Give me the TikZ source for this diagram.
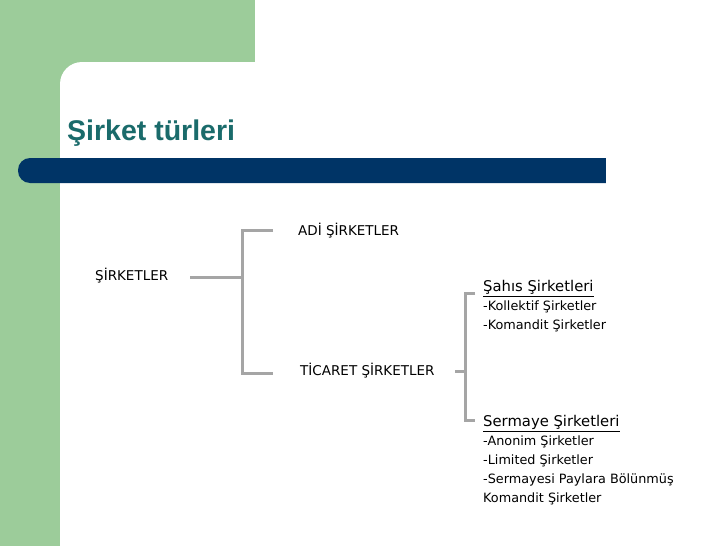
\documentclass[tikz,border=0pt]{standalone}
\usepackage{fontspec}
\setmainfont{DejaVu Sans}
\newfontfamily\titlefont{Liberation Sans}
\definecolor{grn}{HTML}{9CCC9A}
\definecolor{bar}{HTML}{003466}
\definecolor{ttl}{HTML}{1A6B6B}
\definecolor{ln}{HTML}{A5A5A5}
\begin{document}
\begin{tikzpicture}[x=1pt,y=-1pt,
  lbl/.style={anchor=west,inner sep=0pt,font=\fontsize{13.5}{15}\selectfont},
  conn/.style={draw=ln,line width=3pt}]
\useasboundingbox (0,0) rectangle (728,546);
\fill[white] (0,0) rectangle (728,546);
\fill[grn] (0,0) rectangle (255,90);
\fill[grn] (0,0) rectangle (60,546);
\fill[white,rounded corners=22pt] (60,62) rectangle (300,120);
\fill[white] (60,100) rectangle (300,546);
\fill[bar,rounded corners=12pt] (18,158) rectangle (620,183);
\fill[bar] (560,158) rectangle (606,183);
\fill[white] (606,150) rectangle (640,190);
\node[anchor=base west,inner sep=0pt,text=ttl,font=\titlefont\bfseries\fontsize{28.5}{32}\selectfont] (t) at (67,140) {Şirket türleri};
\node[lbl] (s) at (95,276) {ŞİRKETLER};
\node[lbl] (adi) at (298,231) {ADİ ŞİRKETLER};
\node[lbl] (tic) at (300,371) {TİCARET ŞİRKETLER};
\node[lbl,anchor=north west,align=left,font=\fontsize{12.8}{19}\selectfont] (sah) at (483,280)
 {\underline{\fontsize{14.8}{16}\selectfont Şahıs Şirketleri}\\-Kollektif Şirketler\\-Komandit Şirketler};
\node[lbl,anchor=north west,align=left,font=\fontsize{12.8}{19}\selectfont] (ser) at (483,415)
 {\underline{\fontsize{14.8}{16}\selectfont Sermaye Şirketleri}\\-Anonim Şirketler\\-Limited Şirketler\\-Sermayesi Paylara Bölünmüş\\Komandit Şirketler};
\coordinate (j1) at (242,277);
\coordinate (j2) at (465,371);
\draw[conn] (190,277) -- (j1);
\draw[conn] (273,230) -| (j1) |- (273,373);
\draw[conn] (455,371) -- (j2);
\draw[conn] (475,293) -| (j2) |- (475,420);
\end{tikzpicture}
\end{document}
